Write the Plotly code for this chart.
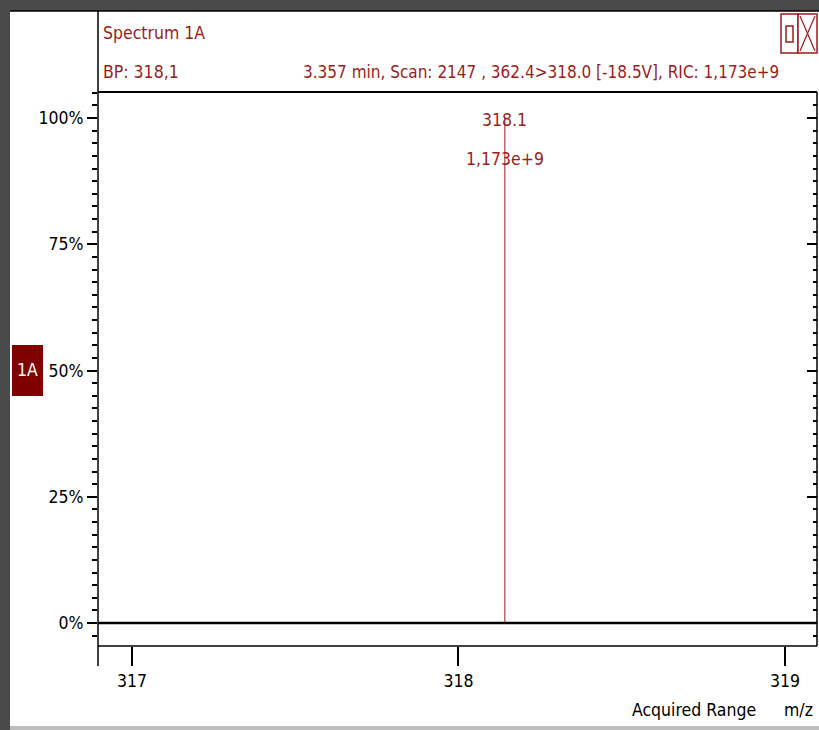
import plotly.graph_objects as go

# ---- data ----
peak_mz = [318.142]
peak_rel = [100.0]
peak_label = ["318.1"]
peak_abs = ["1,173e+9"]
x_ticks = [317, 318, 319]
y_ticks = [0, 25, 50, 75, 100]
y_tick_labels = ["0%", "25%", "50%", "75%", "100%"]
title_text = "Spectrum 1A"
bp_text = "BP: 318,1"
scan_text = "3.357 min, Scan: 2147 , 362.4>318.0 [-18.5V], RIC: 1,173e+9"

RED = "#9b1c1c"
FONT = "DejaVu Sans Condensed, Liberation Sans Narrow, sans-serif"
FS = 17.5
W, H = 819, 730
L, R, T, B = 98, 2, 92, 84

xr = [316.896, 319.098]
yr = [-4.554, 105.15]

fig = go.Figure()
xs, ys = [], []
for m, v in zip(peak_mz, peak_rel):
    xs += [m, m, None]
    ys += [0, v, None]
fig.add_trace(go.Scatter(x=xs, y=ys, mode="lines", line=dict(color=RED, width=1),
                         hoverinfo="skip", showlegend=False))
# right-side mirrored ticks
fig.add_trace(go.Scatter(x=[None], y=[None], yaxis="y2", showlegend=False))

for m, v, lab, ab in zip(peak_mz, peak_rel, peak_label, peak_abs):
    fig.add_annotation(x=m, y=v, text=lab, showarrow=False, yshift=-2,
                       font=dict(color=RED, size=FS, family=FONT), yanchor="middle")
    fig.add_annotation(x=m, y=v, text=ab, showarrow=False, yshift=-41,
                       font=dict(color=RED, size=FS, family=FONT), yanchor="middle")

def px_x(p):
    return (p - L) / (W - L - R)

def px_y(p):
    return (H - B - p) / (H - T - B)

shapes = []
# white window body on a dark-grey paper (the paper colour forms the frame)
shapes.append(dict(type="rect", xref="paper", yref="paper", x0=px_x(10), x1=px_x(W + 5), y0=px_y(726), y1=px_y(11),
                   fillcolor="white", line=dict(width=0), layer="below"))
shapes.append(dict(type="line", xref="paper", yref="paper", x0=px_x(10), x1=px_x(W), y0=px_y(11), y1=px_y(11),
                   line=dict(color="#000", width=1.5)))
shapes.append(dict(type="line", xref="paper", yref="paper", x0=px_x(10), x1=px_x(W), y0=px_y(728), y1=px_y(728),
                   line=dict(color="#bdbdbd", width=4)))
# left axis full height, frame lines
shapes.append(dict(type="line", xref="paper", yref="paper", x0=0, x1=0, y0=px_y(666), y1=px_y(11),
                   line=dict(color="#000", width=1.5)))
shapes.append(dict(type="line", xref="paper", yref="paper", x0=0, x1=1, y0=1, y1=1,
                   line=dict(color="#000", width=2)))
shapes.append(dict(type="line", xref="paper", yref="paper", x0=0, x1=1, y0=0, y1=0,
                   line=dict(color="#000", width=1.5)))
shapes.append(dict(type="line", xref="paper", yref="paper", x0=1, x1=1, y0=0, y1=1,
                   line=dict(color="#000", width=1.5)))
# zero line
shapes.append(dict(type="line", xref="paper", yref="y", x0=0, x1=1, y0=0, y1=0,
                   line=dict(color="#000", width=2.5)))
# buttons
shapes.append(dict(type="rect", xref="paper", yref="paper", x0=px_x(781), x1=px_x(798), y0=px_y(53), y1=px_y(14),
                   line=dict(color=RED, width=1.5), fillcolor="white"))
shapes.append(dict(type="rect", xref="paper", yref="paper", x0=px_x(786), x1=px_x(793), y0=px_y(42), y1=px_y(26),
                   line=dict(color=RED, width=1.5)))
shapes.append(dict(type="rect", xref="paper", yref="paper", x0=px_x(798), x1=px_x(817), y0=px_y(53), y1=px_y(14),
                   line=dict(color=RED, width=1.5), fillcolor="white"))
shapes.append(dict(type="line", xref="paper", yref="paper", x0=px_x(800), x1=px_x(815), y0=px_y(16), y1=px_y(51),
                   line=dict(color=RED, width=1.2)))
shapes.append(dict(type="line", xref="paper", yref="paper", x0=px_x(815), x1=px_x(800), y0=px_y(16), y1=px_y(51),
                   line=dict(color=RED, width=1.2)))
# 1A badge
shapes.append(dict(type="rect", xref="paper", yref="paper", x0=px_x(12), x1=px_x(43), y0=px_y(396), y1=px_y(345),
                   fillcolor="#800000", line=dict(width=0)))

annos = [
    dict(text=title_text, x=px_x(101), y=px_y(33), xanchor="left", yanchor="middle",
         font=dict(color=RED, size=FS, family=FONT)),
    dict(text=bp_text, x=px_x(101), y=px_y(72), xanchor="left", yanchor="middle",
         font=dict(color=RED, size=FS, family=FONT)),
    dict(text=scan_text, x=px_x(781), y=px_y(72), xanchor="right", yanchor="middle",
         font=dict(color=RED, size=17, family=FONT)),
    dict(text="1A", x=px_x(27.5), y=px_y(370), xanchor="center", yanchor="middle",
         font=dict(color="white", size=FS, family=FONT)),
    dict(text="Acquired Range", x=px_x(758), y=px_y(710), xanchor="right", yanchor="middle",
         font=dict(color="#000", size=FS, family=FONT)),
    dict(text="m/z", x=px_x(815), y=px_y(710), xanchor="right", yanchor="middle",
         font=dict(color="#000", size=FS, family=FONT)),
]
for a in annos:
    fig.add_annotation(xref="paper", yref="paper", showarrow=False, **a)

fig.update_layout(
    width=W, height=H, margin=dict(l=L, r=R, t=T, b=B),
    paper_bgcolor="#4a4a4a", plot_bgcolor="white",
    shapes=shapes,
    xaxis=dict(range=xr, tickvals=x_ticks, ticktext=[str(t) for t in x_ticks],
               ticks="outside", ticklen=19, tickwidth=1.5, tickcolor="#000",
               showgrid=False, zeroline=False, showline=False,
               tickfont=dict(size=FS, family=FONT, color="#000")),
    yaxis=dict(range=yr, tickvals=y_ticks, ticktext=y_tick_labels,
               ticks="outside", ticklen=10, tickwidth=1.5, tickcolor="#000",
               minor=dict(dtick=2.5, ticks="outside", ticklen=5, tickcolor="#000", tickwidth=1.5),
               showgrid=False, zeroline=False, showline=False,
               tickfont=dict(size=FS, family=FONT, color="#000")),
    yaxis2=dict(range=yr, overlaying="y", side="right", tickvals=y_ticks, showticklabels=False,
                ticks="inside", ticklen=10, tickwidth=1.5, tickcolor="#000",
                minor=dict(dtick=2.5, ticks="inside", ticklen=4, tickcolor="#000", tickwidth=1.5),
                showgrid=False, zeroline=False, showline=False),
)
fig.write_html("out.html", config={"displayModeBar": False})

# remove the default page margin so the figure sits at the window's top-left corner
with open("out.html", "r", encoding="utf-8") as f:
    html = f.read()
html = html.replace("<head>", "<head><style>html,body{margin:0;padding:0;overflow:hidden;}</style>", 1)
with open("out.html", "w", encoding="utf-8") as f:
    f.write(html)
